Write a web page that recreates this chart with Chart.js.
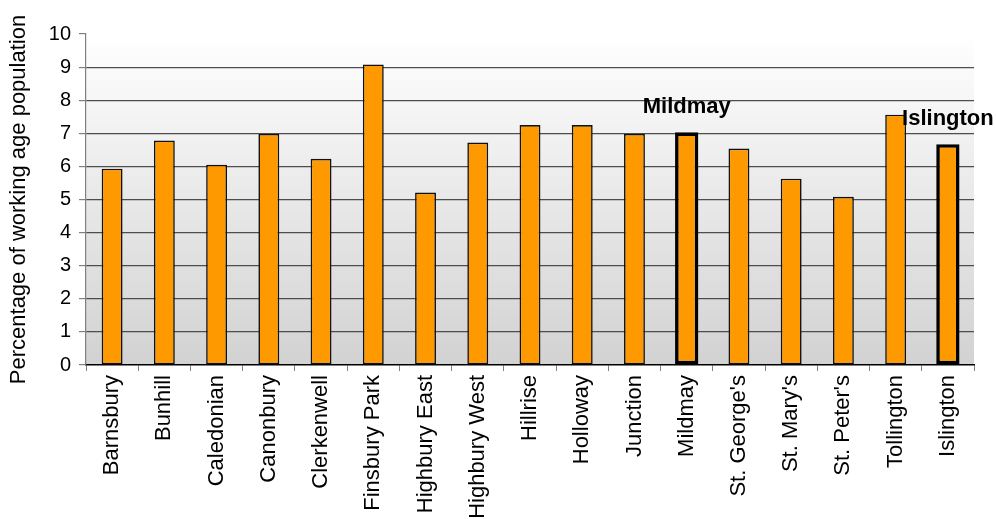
<!DOCTYPE html>
<html>
<head>
<meta charset="utf-8">
<script src="https://cdn.jsdelivr.net/npm/chart.js@4/dist/chart.umd.min.js"></script>
<style>
  html, body { margin: 0; padding: 0; background: #ffffff; }
  #wrap { width: 996px; height: 519px; position: relative; }
</style>
</head>
<body>
<div id="wrap"><canvas id="c" width="996" height="519"></canvas></div>
<script>
const categories = ["Barnsbury", "Bunhill", "Caledonian", "Canonbury", "Clerkenwell", "Finsbury Park",
  "Highbury East", "Highbury West", "Hillrise", "Holloway", "Junction", "Mildmay",
  "St. George's", "St. Mary's", "St. Peter's", "Tollington", "Islington"];
const values = [5.93, 6.78, 6.05, 6.98, 6.23, 9.08, 5.21, 6.72, 7.25, 7.25, 6.98, 7.03, 6.54, 5.63, 5.08, 7.56, 6.67];
const highlighted = ["Mildmay", "Islington"];
const yTicks = [0, 1, 2, 3, 4, 5, 6, 7, 8, 9, 10];
const yTitle = "Percentage of working age population";

const isHi = (i) => highlighted.includes(categories[i]);
const normalData = values.map((v, i) => isHi(i) ? null : v);
const hiData = values.map((v, i) => isHi(i) ? v : null);

const bgPlugin = {
  id: 'bg',
  beforeDraw(chart) {
    const {ctx, chartArea: a} = chart;
    const g = ctx.createLinearGradient(0, a.top, 0, a.bottom);
    g.addColorStop(0, '#ffffff');
    g.addColorStop(1, '#d2d2d2');
    ctx.save();
    ctx.fillStyle = g;
    ctx.fillRect(a.left, a.top, a.right - a.left, a.bottom - a.top);
    ctx.restore();
  }
};

const labelPlugin = {
  id: 'hiLabels',
  afterDatasetsDraw(chart) {
    const {ctx} = chart;
    const xs = chart.scales.x, ys = chart.scales.y;
    ctx.save();
    ctx.font = 'bold 22px "Liberation Sans", Arial, sans-serif';
    ctx.fillStyle = '#000';
    ctx.textAlign = 'center';
    ctx.textBaseline = 'alphabetic';
    highlighted.forEach(name => {
      const i = categories.indexOf(name);
      ctx.fillText(name, xs.getPixelForValue(i), ys.getPixelForValue(values[i]) - 19.5);
    });
    ctx.restore();
  }
};

new Chart(document.getElementById('c'), {
  type: 'bar',
  data: {
    labels: categories,
    datasets: [
      {
        data: normalData,
        backgroundColor: '#ff9900',
        borderColor: '#111111',
        borderWidth: 1.6,
        borderSkipped: false,
        barPercentage: 0.4,
        categoryPercentage: 1.0,
        grouped: false
      },
      {
        data: hiData,
        backgroundColor: '#ff9900',
        borderColor: '#000000',
        borderWidth: 3.6,
        borderSkipped: false,
        barPercentage: 0.446,
        categoryPercentage: 1.0,
        grouped: false
      }
    ]
  },
  options: {
    responsive: false,
    animation: false,
    devicePixelRatio: 1,
    layout: { padding: { left: 0, right: 22, top: 34, bottom: 0 } },
    plugins: { legend: { display: false }, tooltip: { enabled: false } },
    scales: {
      x: {
        offset: true,
        grid: { offset: true, drawOnChartArea: false, drawTicks: true, tickLength: 6, tickColor: '#808080', color: '#808080' },
        border: { display: true, color: '#000000', width: 1.5 },
        ticks: {
          autoSkip: false, minRotation: 90, maxRotation: 90, padding: 4,
          color: '#000', font: { family: '"Liberation Sans", Arial, sans-serif', size: 22 }
        },
        afterFit(scale) { scale.height = 154; }
      },
      y: {
        min: 0, max: 10,
        afterBuildTicks(scale) { scale.ticks = yTicks.map(v => ({ value: v })); },
        grid: {
          drawOnChartArea: true,
          color: (ctx) => (ctx.tick && (ctx.tick.value === 0 || ctx.tick.value === 10)) ? 'rgba(0,0,0,0)' : '#4d4d4d',
          tickColor: '#808080',
          tickLength: 7,
          lineWidth: 1.2
        },
        border: { display: true, color: '#808080', width: 1.2 },
        ticks: {
          padding: 8, color: '#000',
          font: { family: '"Liberation Sans", Arial, sans-serif', size: 20 }
        },
        title: {
          display: true, text: yTitle, color: '#000',
          font: { family: '"Liberation Sans", Arial, sans-serif', size: 22 },
          padding: { top: 6, bottom: 0 }
        },
        afterFit(scale) { scale.width = 86; }
      }
    }
  },
  plugins: [bgPlugin, labelPlugin]
});
</script>
</body>
</html>
